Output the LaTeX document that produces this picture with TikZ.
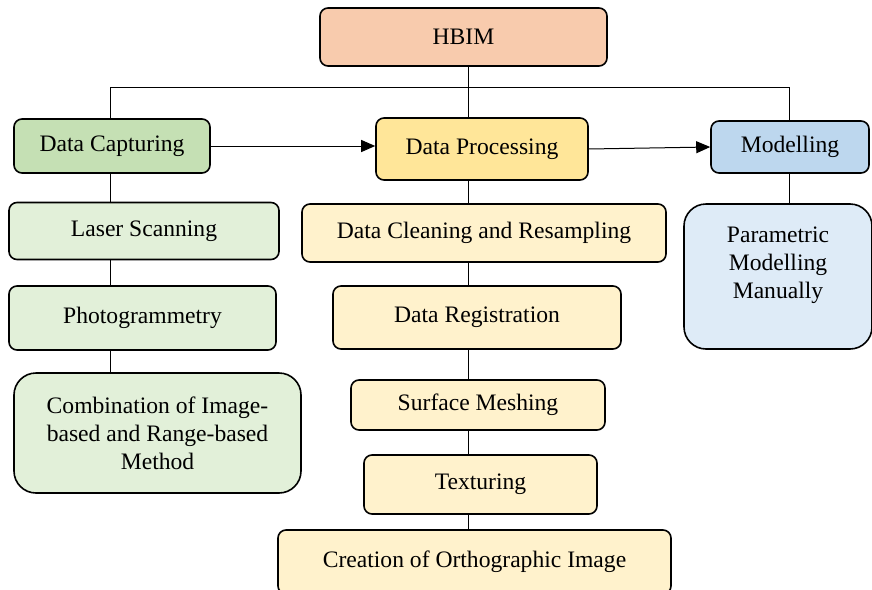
\documentclass[tikz,border=0pt]{standalone}
\usepackage{fontspec}
\setmainfont{Liberation Serif}
\usetikzlibrary{positioning, arrows.meta}
\definecolor{hbimfill}{HTML}{F8CBAD}
\definecolor{capfill}{HTML}{C5E0B4}
\definecolor{procfill}{HTML}{FFE699}
\definecolor{modfill}{HTML}{BDD7EE}
\definecolor{capsub}{HTML}{E2F0D9}
\definecolor{procsub}{HTML}{FFF2CC}
\definecolor{modsub}{HTML}{DEEBF7}
\tikzset{
    stagebox/.style={
        draw, rectangle, rounded corners=4pt, line width=0.8pt, inner sep=0pt,
        align=center, font=\fontsize{11.8}{14}\selectfont
    },
    bigbox/.style={stagebox, rounded corners=11pt},
    link/.style={line width=0.5pt},
    flow/.style={link, -{Triangle[length=7pt, width=6pt]}}
}

\begin{document}
\begin{tikzpicture}[x=0.5pt, y=-0.5pt]
    \useasboundingbox (0,0) rectangle (872,589);

    % top level
    \node[stagebox, fill=hbimfill, minimum width=143.5pt, minimum height=29pt] (hbim) at (463.5,37) {HBIM};
    \node[stagebox, fill=capfill, minimum width=98pt, minimum height=27pt] (cap) at (112,146) {Data Capturing};
    \node[stagebox, fill=procfill, minimum width=106pt, minimum height=31pt] (proc) at (482,149) {Data Processing};
    \node[stagebox, fill=modfill, minimum width=79pt, minimum height=26pt] (model) at (790,147) {Modelling};

    % data capturing column
    \node[stagebox, fill=capsub, minimum width=135pt, minimum height=28.5pt] (laser) at (144,231) {Laser Scanning};
    \node[stagebox, fill=capsub, minimum width=133.5pt, minimum height=32pt] (photo) at (142.5,318) {Photogrammetry};
    \node[bigbox, fill=capsub, minimum width=143.5pt, minimum height=60pt] (comb) at (157.5,433)
        {Combination of Image-\\based and Range-based\\Method};

    % data processing column
    \node[stagebox, fill=procsub, minimum width=182pt, minimum height=29pt] (clean) at (484,233) {Data Cleaning and Resampling};
    \node[stagebox, fill=procsub, minimum width=144pt, minimum height=31.5pt] (reg) at (477,317.5) {Data Registration};
    \node[stagebox, fill=procsub, minimum width=127pt, minimum height=25pt] (mesh) at (478,405) {Surface Meshing};
    \node[stagebox, fill=procsub, minimum width=116.5pt, minimum height=29.5pt] (tex) at (480.5,484.5) {Texturing};
    \node[stagebox, fill=procsub, minimum width=196.5pt, minimum height=32pt] (ortho) at (474.5,562) {Creation of Orthographic Image};

    % modelling column
    \node[bigbox, fill=modsub, minimum width=94pt, minimum height=72.5pt] (param) at (778,276.5) {};
    \node[align=center, inner sep=0pt, font=\fontsize{11.8}{14}\selectfont] (paramtxt) at ([yshift=5.75pt]param.center)
        {Parametric\\Modelling\\Manually};

    \coordinate (busL) at (110,87);
    \coordinate (busR) at (789,87);
    \coordinate (colA) at (110,0);
    \coordinate (colB) at (468,0);

    \draw[link] (cap.north -| busL) -- (busL) -- (busR) -- (model.north -| busR);
    \draw[link] (hbim.south -| colB) -- (proc.north -| colB);
    \draw[flow] (cap.east) -- (cap.east -| proc.west);
    \draw[flow] (proc.east) -- (model.west);

    \draw[link] (cap.south -| colA) -- (laser.north -| colA);
    \draw[link] (laser.south -| colA) -- (photo.north -| colA);
    \draw[link] (photo.south -| colA) -- (comb.north -| colA);

    \draw[link] (proc.south -| colB) -- (clean.north -| colB);
    \draw[link] (clean.south -| colB) -- (reg.north -| colB);
    \draw[link] (reg.south -| colB) -- (mesh.north -| colB);
    \draw[link] (mesh.south -| colB) -- (tex.north -| colB);
    \draw[link] (tex.south -| colB) -- (ortho.north -| colB);

    \draw[link] (model.south -| busR) -- (param.north -| busR);
\end{tikzpicture}
\end{document}
